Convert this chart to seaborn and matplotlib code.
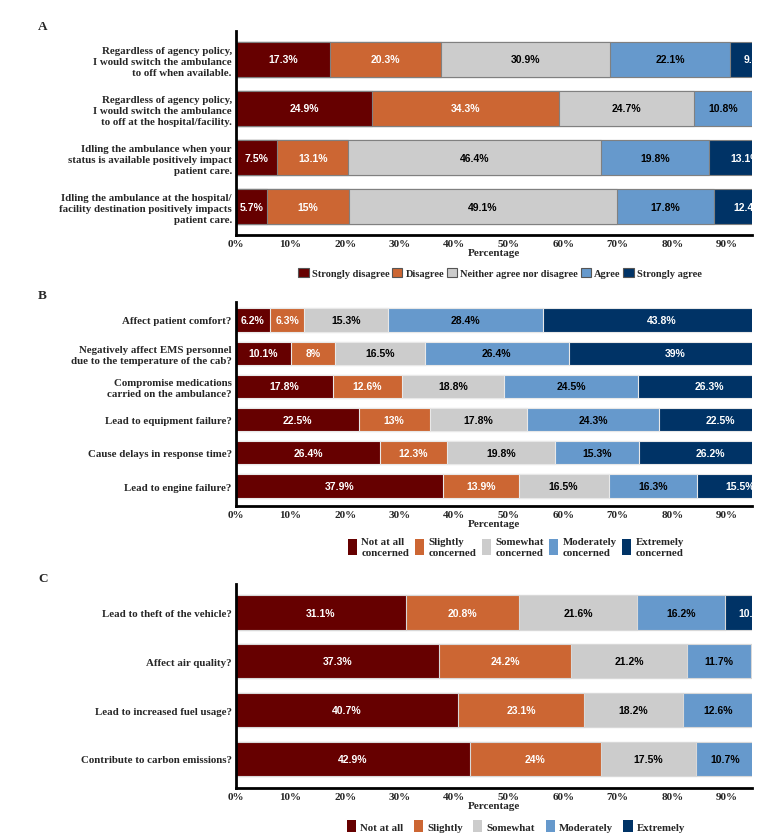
import matplotlib
matplotlib.use("Agg")
import matplotlib.pyplot as plt
from matplotlib.patches import Patch
import numpy as np
import pandas as pd
import seaborn as sns

sns.set_theme(style="white")
plt.rcParams['font.family'] = ['Liberation Serif', 'DejaVu Serif']

colors = ["#660000", "#CC6633", "#CCCCCC", "#6699CC", "#003366"]
text_colors = ["white", "white", "black", "black", "white"]

# Panel A
questions_a = [
    "Regardless of agency policy,\nI would switch the ambulance\nto off when available.",
    "Regardless of agency policy,\nI would switch the ambulance\nto off at the hospital/facility.",
    "Idling the ambulance when your\nstatus is available positively impact\npatient care.",
    "Idling the ambulance at the hospital/\nfacility destination positively impacts\npatient care.",
]
levels_a = ["Strongly disagree", "Disagree", "Neither agree nor disagree", "Agree", "Strongly agree"]
strongly_disagree_a = [17.3, 24.9, 7.5, 5.7]
disagree_a = [20.3, 34.3, 13.1, 15]
neither_a = [30.9, 24.7, 46.4, 49.1]
agree_a = [22.1, 10.8, 19.8, 17.8]
strongly_agree_a = [9.4, 5.3, 13.1, 12.4]

# Panel B
questions_b = [
    "Affect patient comfort?",
    "Negatively affect EMS personnel\ndue to the temperature of the cab?",
    "Compromise medications\ncarried on the ambulance?",
    "Lead to equipment failure?",
    "Cause delays in response time?",
    "Lead to engine failure?",
]
levels_b = ["Not at all\nconcerned", "Slightly\nconcerned", "Somewhat\nconcerned",
            "Moderately\nconcerned", "Extremely\nconcerned"]
not_at_all_b = [6.2, 10.1, 17.8, 22.5, 26.4, 37.9]
slightly_b = [6.3, 8, 12.6, 13, 12.3, 13.9]
somewhat_b = [15.3, 16.5, 18.8, 17.8, 19.8, 16.5]
moderately_b = [28.4, 26.4, 24.5, 24.3, 15.3, 16.3]
extremely_b = [43.8, 39, 26.3, 22.5, 26.2, 15.5]

# Panel C
questions_c = [
    "Lead to theft of the vehicle?",
    "Affect air quality?",
    "Lead to increased fuel usage?",
    "Contribute to carbon emissions?",
]
levels_c = ["Not at all", "Slightly", "Somewhat", "Moderately", "Extremely"]
not_at_all_c = [31.1, 37.3, 40.7, 42.9]
slightly_c = [20.8, 24.2, 23.1, 24]
somewhat_c = [21.6, 21.2, 18.2, 17.5]
moderately_c = [16.2, 11.7, 12.6, 10.7]
extremely_c = [10.3, 5.6, 5.4, 4.9]

xticks = [0, 10, 20, 30, 40, 50, 60, 70, 80, 90]
xtick_labels = [f"{t}%" for t in xticks]

W, H = 783, 837
fig = plt.figure(figsize=(W / 100, H / 100), dpi=100)


def px_axes(left, top, right, bottom):
    return fig.add_axes([left / W, 1 - bottom / H, (right - left) / W, (bottom - top) / H])


def draw_panel(ax, questions, series, edgecolor, ylim):
    vals = np.array(series)  # shape (5, n)
    cum = np.cumsum(vals, axis=0)
    for k in range(len(series) - 1, -1, -1):
        df = pd.DataFrame({"question": questions, "cum": cum[k]})
        sns.barplot(data=df, x="cum", y="question", order=questions, color=colors[k],
                    width=0.7, edgecolor=edgecolor, linewidth=0.8, errorbar=None,
                    orient="h", saturation=1, ax=ax)
    for k in range(len(series)):
        for i in range(len(questions)):
            v = vals[k, i]
            start = cum[k, i] - v
            ax.text(start + v / 2, i, f"{v:g}%", ha="center", va="center",
                    fontsize=7.5, fontweight="bold", color=text_colors[k],
                    family=["Liberation Sans", "DejaVu Sans"], clip_on=True)
    ax.set_xlim(0, 94.6)
    ax.set_ylim(*ylim)
    ax.set_xticks(xticks)
    ax.set_xticklabels(xtick_labels, fontsize=8, fontweight="bold")
    ax.set_yticks(range(len(questions)))
    ax.set_yticklabels(questions, fontsize=7.8, fontweight="bold", linespacing=1.3)
    ax.set_ylabel("")
    ax.set_xlabel("Percentage", fontsize=8, fontweight="bold", labelpad=0)
    ax.tick_params(axis="both", length=0, pad=3)
    for s in ["top", "right"]:
        ax.spines[s].set_visible(False)
    for s in ["left", "bottom"]:
        ax.spines[s].set_color("black")
        ax.spines[s].set_linewidth(2)
    ax.grid(False)


axA = px_axes(236, 32, 752, 236)
draw_panel(axA, questions_a, [strongly_disagree_a, disagree_a, neither_a, agree_a, strongly_agree_a],
           "#808080", (3.58, -0.58))
axB = px_axes(236, 303, 752, 507)
draw_panel(axB, questions_b, [not_at_all_b, slightly_b, somewhat_b, moderately_b, extremely_b],
           "#e8e8e8", (5.6, -0.54))
axC = px_axes(236, 585, 752, 789)
draw_panel(axC, questions_c, [not_at_all_c, slightly_c, somewhat_c, moderately_c, extremely_c],
           "#d8d8d8", (3.6, -0.585))

# Panel letters
for letter, y in [("A", 27), ("B", 296), ("C", 579)]:
    fig.text(38 / W, 1 - y / H, letter, fontsize=9.5, fontweight="bold", ha="left", va="center")

# Legend A
handles_a = [Patch(facecolor=c, edgecolor="#555555", linewidth=0.8) for c in colors]
fig.legend(handles_a, levels_a, loc="center", bbox_to_anchor=(500 / W, 1 - 274 / H), ncol=5,
           frameon=False, prop={"weight": "bold", "size": 7.5},
           handlelength=1.0, handleheight=1.0, handletextpad=0.3, columnspacing=0.25,
           borderaxespad=0, borderpad=0)

# Legend B
handles_b = [Patch(facecolor=c, edgecolor="none") for c in colors]
fig.legend(handles_b, levels_b, loc="center", bbox_to_anchor=(516 / W, 1 - 548 / H), ncol=5,
           frameon=False, prop={"weight": "bold", "size": 7.8},
           handlelength=0.85, handleheight=2.0, handletextpad=0.4, columnspacing=0.5,
           labelspacing=0.1, borderaxespad=0, borderpad=0)

# Legend C
fig.legend(handles_b, levels_c, loc="center", bbox_to_anchor=(516 / W, 1 - 827 / H), ncol=5,
           frameon=False, prop={"weight": "bold", "size": 7.8},
           handlelength=0.85, handleheight=1.2, handletextpad=0.4, columnspacing=0.95,
           borderaxespad=0, borderpad=0)

fig.savefig("out.png", dpi=100)
